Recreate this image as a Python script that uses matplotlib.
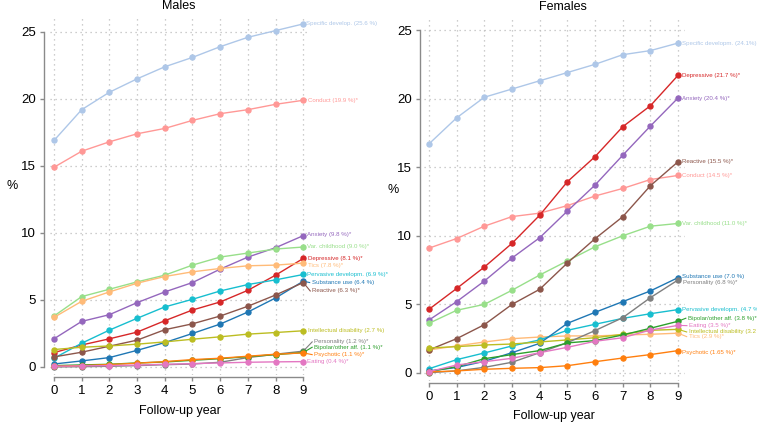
import matplotlib
matplotlib.use("Agg")
import matplotlib.pyplot as plt

plt.rcParams['font.family'] = ['Liberation Sans', 'DejaVu Sans']

years = list(range(10))

# --- Males (%), cumulative incidence by follow-up year ---
males_specific = [16.9, 19.2, 20.5, 21.5, 22.4, 23.1, 23.9, 24.6, 25.1, 25.6]
males_conduct = [14.9, 16.1, 16.8, 17.4, 17.8, 18.4, 18.9, 19.2, 19.6, 19.9]
males_anxiety = [2.1, 3.4, 3.9, 4.8, 5.6, 6.3, 7.3, 8.2, 8.9, 9.8]
males_varchild = [3.8, 5.25, 5.8, 6.35, 6.85, 7.6, 8.2, 8.5, 8.8, 8.95]
males_depressive = [1.07, 1.64, 2.1, 2.6, 3.45, 4.25, 4.85, 5.72, 6.85, 8.1]
males_tics = [3.7, 4.9, 5.6, 6.25, 6.75, 7.1, 7.35, 7.55, 7.6, 7.75]
males_pervasive = [0.65, 1.77, 2.75, 3.63, 4.48, 5.05, 5.67, 6.15, 6.5, 6.9]
males_substance = [0.22, 0.45, 0.7, 1.24, 1.82, 2.5, 3.2, 4.1, 5.15, 6.4]
males_reactive = [0.75, 1.1, 1.55, 2.0, 2.78, 3.22, 3.8, 4.53, 5.37, 6.3]
males_intellect = [1.3, 1.47, 1.57, 1.7, 1.87, 2.07, 2.25, 2.45, 2.57, 2.7]
males_personality = [0.0, 0.02, 0.05, 0.1, 0.17, 0.22, 0.35, 0.7, 0.95, 1.18]
males_bipolar = [0.1, 0.15, 0.2, 0.3, 0.37, 0.5, 0.62, 0.77, 0.92, 1.08]
males_psychotic = [0.05, 0.1, 0.18, 0.28, 0.4, 0.55, 0.65, 0.8, 0.95, 1.05]
males_eating = [0.05, 0.08, 0.1, 0.14, 0.2, 0.25, 0.3, 0.35, 0.38, 0.4]

males_series = [males_specific, males_conduct, males_anxiety, males_varchild,
                males_depressive, males_tics, males_pervasive, males_substance,
                males_reactive, males_intellect, males_personality,
                males_bipolar, males_psychotic, males_eating]
males_labels = ['Specific develop. (25.6 %)', 'Conduct (19.9 %)*',
                'Anxiety (9.8 %)*', 'Var. childhood (9.0 %)*',
                'Depressive (8.1 %)*', 'Tics (7.8 %)*',
                'Pervasive developm. (6.9 %)*', 'Substance use (6.4 %)',
                'Reactive (6.3 %)*', 'Intellectual disability (2.7 %)',
                'Personality (1.2 %)*', 'Bipolar/other aff. (1.1 %)*',
                'Psychotic (1.1 %)*', 'Eating (0.4 %)*']

# --- Females (%) ---
females_specific = [16.7, 18.6, 20.1, 20.7, 21.3, 21.9, 22.5, 23.2, 23.5, 24.05]
females_conduct = [9.1, 9.8, 10.7, 11.4, 11.65, 12.2, 12.9, 13.45, 14.1, 14.4]
females_anxiety = [3.86, 5.2, 6.7, 8.38, 9.86, 11.8, 13.7, 15.87, 18.0, 20.05]
females_varchild = [3.62, 4.57, 5.0, 6.03, 7.14, 8.17, 9.2, 10.0, 10.7, 10.9]
females_depressive = [4.64, 6.16, 7.72, 9.45, 11.5, 13.94, 15.77, 17.95, 19.48, 21.7]
females_tics = [1.68, 1.97, 2.26, 2.5, 2.62, 2.7, 2.7, 2.77, 2.82, 2.9]
females_pervasive = [0.31, 0.97, 1.46, 1.97, 2.41, 3.11, 3.55, 3.98, 4.32, 4.62]
females_substance = [0.15, 0.4, 0.85, 1.48, 2.16, 3.62, 4.42, 5.2, 5.98, 6.95]
females_reactive = [1.68, 2.5, 3.52, 5.0, 6.1, 8.02, 9.79, 11.39, 13.65, 15.4]
females_intellect = [1.82, 1.92, 2.04, 2.11, 2.26, 2.41, 2.57, 2.82, 3.11, 3.18]
females_personality = [0.02, 0.15, 0.41, 0.78, 1.48, 2.21, 3.09, 4.03, 5.49, 6.78]
females_bipolar = [0.1, 0.46, 1.04, 1.34, 1.63, 2.19, 2.36, 2.77, 3.26, 3.77]
females_psychotic = [0.08, 0.15, 0.27, 0.34, 0.39, 0.53, 0.82, 1.09, 1.34, 1.63]
females_eating = [0.1, 0.58, 0.82, 1.07, 1.48, 1.87, 2.31, 2.57, 3.13, 3.47]

females_series = [females_specific, females_conduct, females_anxiety,
                  females_varchild, females_depressive, females_tics,
                  females_pervasive, females_substance, females_reactive,
                  females_intellect, females_personality, females_bipolar,
                  females_psychotic, females_eating]
females_labels = ['Specific developm. (24.1%)', 'Conduct (14.5 %)*',
                  'Anxiety (20.4 %)*', 'Var. childhood (11.0 %)*',
                  'Depressive (21.7 %)*', 'Tics (2.9 %)*',
                  'Pervasive developm. (4.7 %)', 'Substance use (7.0 %)',
                  'Reactive (15.5 %)*', 'Intellectual disability (3.2 %)',
                  'Personality (6.8 %)*', 'Bipolar/other aff. (3.8 %)*',
                  'Psychotic (1.65 %)*', 'Eating (3.5 %)*']

colors = ['#aec7e8', '#ff9896', '#9467bd', '#98df8a', '#d62728', '#ffbb78',
          '#17becf', '#1f77b4', '#8c564b', '#bcbd22', '#7f7f7f', '#2ca02c',
          '#ff7f0e', '#e377c2']

# label placement: (y position, x offset, leader line?)
males_label_pos = [(25.6, 0.11, False), (19.9, 0.17, False), (9.85, 0.15, False),
                   (9.0, 0.15, False), (8.1, 0.17, False), (7.6, 0.17, False),
                   (6.87, 0.15, False), (6.3, 0.31, True), (5.67, 0.33, True),
                   (2.69, 0.17, False), (1.87, 0.4, True), (1.47, 0.4, True),
                   (0.92, 0.4, True), (0.4, 0.15, False)]
females_label_pos = [(24.03, 0.15, False), (14.38, 0.15, False), (20.02, 0.15, False),
                     (10.9, 0.15, False), (21.65, 0.14, False), (2.65, 0.39, True),
                     (4.66, 0.15, False), (7.02, 0.15, False), (15.4, 0.15, False),
                     (2.99, 0.39, True), (6.63, 0.17, False), (3.99, 0.36, True),
                     (1.51, 0.13, False), (3.45, 0.4, True)]

W, H = 757, 423
fig = plt.figure(figsize=(W / 100, H / 100), dpi=100)


def px_rect(left, right, top, bottom):
    return [left / W, 1 - bottom / H, (right - left) / W, (bottom - top) / H]


def draw_panel(ax, series, labels, label_pos, xlim, ylim, left_off, bottom_off):
    for vals, lab, col, (ly, dx, leader) in zip(series, labels, colors, label_pos):
        ax.plot(years, vals, color=col, lw=1.0, marker='o', ms=3.6, zorder=3,
                clip_on=False)
        if leader:
            ax.plot([9, 9 + dx - 0.08], [vals[-1], ly], color=col, lw=0.8,
                    clip_on=False, zorder=3)
        ax.text(9 + dx, ly, lab, color=col, fontsize=4.4, va='center',
                ha='left', clip_on=False)
    ax.set_xlim(*xlim)
    ax.set_ylim(*ylim)
    ax.set_xticks(years)
    ax.set_yticks([0, 5, 10, 15, 20, 25])
    ax.grid(True, color='#bdbdbd', lw=0.9, linestyle=(0, (1, 3)))
    ax.set_axisbelow(True)
    for s in ['top', 'right']:
        ax.spines[s].set_visible(False)
    ax.spines['left'].set_position(('outward', left_off))
    ax.spines['bottom'].set_position(('outward', bottom_off))
    ax.spines['left'].set_bounds(0, 25)
    ax.spines['bottom'].set_bounds(0, 9)
    for s in ['left', 'bottom']:
        ax.spines[s].set_color('#8a8a8a')
        ax.spines[s].set_linewidth(1.0)
    ax.tick_params(colors='#8a8a8a', labelcolor='black', labelsize=9.5,
                   length=3, width=1.0, pad=3)
    ax.patch.set_alpha(0)


ax_m = fig.add_axes(px_rect(50, 310, 18, 375))
draw_panel(ax_m, males_series, males_labels, males_label_pos,
           (-0.144, 9.242), (-0.6, 26.04), 4.3, 1.4)

ax_f = fig.add_axes(px_rect(424, 685, 16.3, 381.2))
draw_panel(ax_f, females_series, females_labels, females_label_pos,
           (-0.18, 9.25), (-0.6, 26.0), 2.9, 1.3)

fig.text(179 / W, 1 - 6 / H, 'Males', ha='center', va='center', fontsize=9)
fig.text(563 / W, 1 - 7 / H, 'Females', ha='center', va='center', fontsize=9)
fig.text(12 / W, 1 - 186 / H, '%', ha='center', va='center', fontsize=9)
fig.text(393 / W, 1 - 190 / H, '%', ha='center', va='center', fontsize=9)
fig.text(179.5 / W, 1 - 411 / H, 'Follow-up year', ha='center', va='center',
         fontsize=9)
fig.text(553.5 / W, 1 - 415.7 / H, 'Follow-up year', ha='center', va='center',
         fontsize=9)

fig.savefig('out.png', dpi=100)
